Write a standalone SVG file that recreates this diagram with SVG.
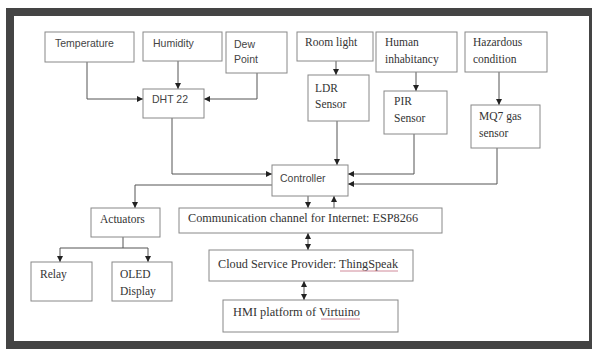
<svg xmlns="http://www.w3.org/2000/svg" width="592" height="349" viewBox="0 0 592 349">
<defs>
<marker id="ah" markerUnits="userSpaceOnUse" markerWidth="7" markerHeight="7" refX="6" refY="3" orient="auto-start-reverse"><path d="M0,0 L6,3 L0,6 z" fill="#222"/></marker>
<style>
.box{fill:#fff;stroke:#888;stroke-width:1}
.t{font-family:"Liberation Serif",serif;font-size:11.5px;fill:#333}
.s{font-family:"Liberation Sans",sans-serif;font-size:10.5px;fill:#444}
.c{fill:none;stroke:#555;stroke-width:1}
.sp{stroke:#d08a9a;stroke-width:1;fill:none}
</style>
</defs>
<rect x="6" y="8" width="586" height="341" fill="#444"/>
<rect x="14" y="16" width="575" height="325" fill="#fff"/>
<g id="connectors">
<path class="c" d="M87,62 V99 H143" marker-end="url(#ah)"/>
<path class="c" d="M178,61 V89" marker-end="url(#ah)"/>
<path class="c" d="M257,73 V99 H204" marker-end="url(#ah)"/>
<path class="c" d="M172,118 V174 H272" marker-end="url(#ah)"/>
<path class="c" d="M336,61 V75" marker-end="url(#ah)"/>
<path class="c" d="M416,72 V91" marker-end="url(#ah)"/>
<path class="c" d="M499,72 V105" marker-end="url(#ah)"/>
<path class="c" d="M337,121 V165" marker-end="url(#ah)"/>
<path class="c" d="M414,134 V174 H348" marker-end="url(#ah)"/>
<path class="c" d="M497,148 V184 H348" marker-end="url(#ah)"/>
<path class="c" d="M272,185 H135 V208" marker-end="url(#ah)"/>
<path class="c" d="M308,196 V208" marker-end="url(#ah)"/>
<path class="c" d="M334,208 V196" marker-end="url(#ah)"/>
<path class="c" d="M308,233 V250" marker-start="url(#ah)" marker-end="url(#ah)"/>
<path class="c" d="M304,281 V300" marker-start="url(#ah)" marker-end="url(#ah)"/>
<path class="c" d="M123,237 V248 H60 V262" marker-end="url(#ah)"/>
<path class="c" d="M123,248 H148 V262" marker-end="url(#ah)"/>
</g>
<g id="temperature"><rect class="box" x="45" y="32" width="89" height="30"/><text class="s" x="55" y="47">Temperature</text></g>
<g id="humidity"><rect class="box" x="143" y="32" width="79" height="29"/><text class="s" x="153" y="47">Humidity</text></g>
<g id="dewpoint"><rect class="box" x="226" y="32" width="61" height="41"/><text class="s" x="234" y="48">Dew</text><text class="s" x="234" y="63">Point</text></g>
<g id="dht22"><rect class="box" x="143" y="89" width="61" height="29"/><text class="s" x="152" y="103">DHT 22</text></g>
<g id="roomlight"><rect class="box" x="297" y="32" width="76" height="29"/><text class="t" x="305" y="46">Room light</text></g>
<g id="human"><rect class="box" x="376" y="32" width="81" height="40"/><text class="t" x="385" y="46">Human</text><text class="t" x="385" y="63">inhabitancy</text></g>
<g id="hazardous"><rect class="box" x="465" y="32" width="82" height="40"/><text class="t" x="473" y="46">Hazardous</text><text class="t" x="473" y="63">condition</text></g>
<g id="ldr"><rect class="box" x="308" y="75" width="61" height="46"/><text class="t" x="315" y="92">LDR</text><text class="t" x="315" y="108">Sensor</text></g>
<g id="pir"><rect class="box" x="384" y="91" width="63" height="43"/><text class="t" x="394" y="105">PIR</text><text class="t" x="394" y="122">Sensor</text></g>
<g id="mq7"><rect class="box" x="471" y="105" width="69" height="43"/><text class="t" x="479" y="120">MQ7 gas</text><text class="t" x="479" y="137">sensor</text></g>
<g id="controller"><rect class="box" x="272" y="165" width="76" height="31"/><text class="s" x="280" y="182">Controller</text></g>
<g id="actuators"><rect class="box" x="91" y="208" width="69" height="29"/><text class="t" x="100" y="223">Actuators</text></g>
<g id="relay"><rect class="box" x="31" y="262" width="61" height="39"/><text class="t" x="40" y="278">Relay</text></g>
<g id="oled"><rect class="box" x="112" y="262" width="60" height="39"/><text class="t" x="120" y="278">OLED</text><text class="t" x="120" y="295">Display</text></g>
<g id="comm"><rect class="box" x="179" y="208" width="263" height="25"/><text class="t" x="188" y="222" textLength="230" lengthAdjust="spacingAndGlyphs">Communication channel for Internet: ESP8266</text></g>
<g id="cloud"><rect class="box" x="209" y="250" width="204" height="31"/><text class="t" x="218" y="268" textLength="180" lengthAdjust="spacingAndGlyphs">Cloud Service Provider: ThingSpeak</text><path class="sp" d="M340,271 H398"/></g>
<g id="hmi"><rect class="box" x="223" y="300" width="175" height="32"/><text class="t" x="233" y="316" textLength="127" lengthAdjust="spacingAndGlyphs">HMI platform of Virtuino</text><path class="sp" d="M321,319 H360"/></g>
</svg>
